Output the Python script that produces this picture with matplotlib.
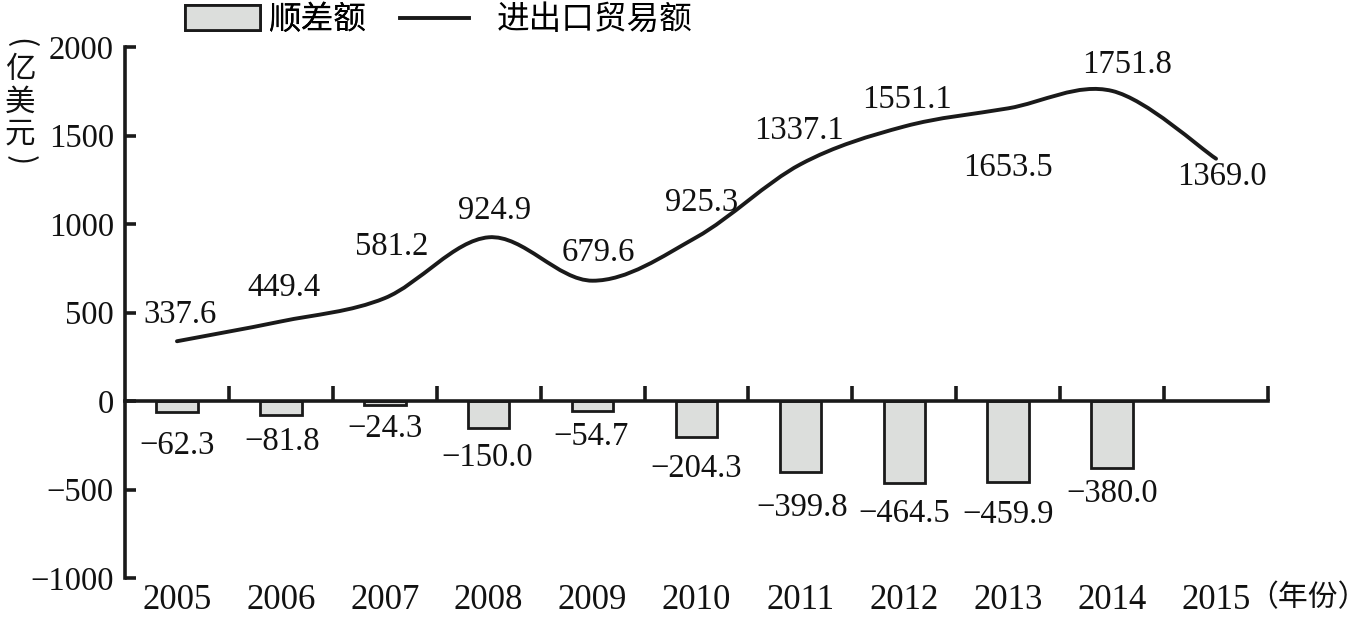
import matplotlib
matplotlib.use("Agg")
import matplotlib.pyplot as plt
from matplotlib.path import Path
from matplotlib.patches import PathPatch, Patch
from matplotlib.lines import Line2D
import numpy as np

# ---------------- data ----------------
years = ["2005", "2006", "2007", "2008", "2009", "2010", "2011", "2012", "2013", "2014", "2015"]
trade_total = [337.6, 449.4, 581.2, 924.9, 679.6, 925.3, 1337.1, 1551.1, 1653.5, 1751.8, 1369.0]
balance = [-62.3, -81.8, -24.3, -150.0, -54.7, -204.3, -399.8, -464.5, -459.9, -380.0]
yticks = [-1000, -500, 0, 500, 1000, 1500, 2000]
legend_labels = ["顺差额", "进出口贸易额"]
ylabel_chars = ["亿", "美", "元"]
ylabel_parens = ["(", ")"]
xunit = "（年份）"

# label offsets (points): styling only
line_lbl_off = [(2, 19), (2, 24), (5, 37), (4, 19), (4, 20), (4, 25), (-1, 24), (2, 19), (0, -43), (11, 19), (4, -13)]
bar_lbl_off = [(0, -24), (1, -19), (0, -17), (-1, -22), (-1, -19), (0, -23), (1, -26), (0, -22), (0, -23), (0, -18)]

NUM = "Liberation Serif"
CJK = ["Noto Sans CJK SC", "DejaVu Sans"]

plt.rcParams["font.family"] = [NUM, "Noto Sans CJK SC", "DejaVu Sans"]

fig = plt.figure(figsize=(13.69, 6.18), dpi=100)
ax = fig.add_axes([125 / 1369, 40 / 618, (1268 - 125) / 1369, (578 - 47) / 618])

x = np.arange(len(years))
xb = np.arange(len(balance))

# bars
ax.bar(xb, balance, width=0.4, facecolor="#dcdedc", edgecolor="#1a1a1a", linewidth=2.0, zorder=2)

# smooth line (Catmull-Rom as cubic Bezier)
pts = np.column_stack([x, trade_total]).astype(float)
n = len(pts)
verts = [tuple(pts[0])]
codes = [Path.MOVETO]
for i in range(n - 1):
    p0 = pts[i - 1] if i > 0 else pts[i]
    p1 = pts[i]
    p2 = pts[i + 1]
    p3 = pts[i + 2] if i + 2 < n else pts[i + 1]
    c1 = p1 + (p2 - p0) / 6.0
    c2 = p2 - (p3 - p1) / 6.0
    verts += [tuple(c1), tuple(c2), tuple(p2)]
    codes += [Path.CURVE4, Path.CURVE4, Path.CURVE4]
ax.add_patch(PathPatch(Path(verts, codes), fill=False, edgecolor="#1a1a1a", linewidth=2.8,
                       capstyle="round", zorder=3))

# line labels
for i, v in enumerate(trade_total):
    ax.annotate(f"{v:.1f}", xy=(x[i], v), xytext=line_lbl_off[i], textcoords="offset points",
                ha="center", va="center", fontsize=23.5, family=NUM, color="#111111", zorder=4)

# bar labels
for i, v in enumerate(balance):
    ax.annotate(f"{v:.1f}".replace("-", "\u2212"), xy=(xb[i], v), xytext=bar_lbl_off[i],
                textcoords="offset points", ha="center", va="center", fontsize=23.5,
                family=NUM, color="#111111", zorder=4)

# axes limits
ax.set_xlim(-0.5, len(years) - 0.5)
ax.set_ylim(-1000, 2000)

# spines
for s in ["top", "right"]:
    ax.spines[s].set_visible(False)
ax.spines["left"].set_linewidth(2.6)
ax.spines["left"].set_color("#1a1a1a")
ax.spines["bottom"].set_position(("data", 0))
ax.spines["bottom"].set_linewidth(2.6)
ax.spines["bottom"].set_color("#1a1a1a")

# y ticks
ax.set_yticks(yticks)
ax.set_yticklabels([str(t).replace("-", "\u2212") for t in yticks])
ax.tick_params(axis="y", direction="in", length=8, width=2.6, color="#1a1a1a", pad=8,
               labelsize=23.5, labelcolor="#111111")

# x ticks on zero line (boundaries)
ax.set_xticks(np.arange(len(years)) + 0.5)
ax.tick_params(axis="x", direction="in", length=11, width=2.6, color="#1a1a1a", labelbottom=False)

# year labels at the bottom
sec = ax.secondary_xaxis(0)
sec.set_xticks(x)
sec.set_xticklabels(years)
sec.spines["bottom"].set_visible(False)
sec.tick_params(axis="x", length=0, pad=4, labelsize=25, labelcolor="#111111")
for lab in sec.get_xticklabels():
    lab.set_family(NUM)

ax.annotate(xunit, xy=(x[-1], 0), xycoords=("data", "axes fraction"), xytext=(23, -3),
            textcoords="offset points", ha="left", va="top", fontsize=21.5, family=CJK,
            color="#111111")

# y unit label (vertical)
fig.text(20 / 1369, 1 - 102 / 618, "\n".join(ylabel_chars), ha="center", va="center",
         fontsize=22, family=CJK, linespacing=1.05, color="#111111")
fig.text(20 / 1369, 1 - 43 / 618, ylabel_parens[0], ha="center", va="center", rotation=-90,
         fontsize=22, family=CJK, color="#111111")
fig.text(20 / 1369, 1 - 160 / 618, ylabel_parens[1], ha="center", va="center", rotation=-90,
         fontsize=22, family=CJK, color="#111111")

# legends
h1 = Patch(facecolor="#dcdedc", edgecolor="#1a1a1a", linewidth=2.0)
h2 = Line2D([], [], color="#1a1a1a", linewidth=2.8)
leg1 = fig.legend([h1], [legend_labels[0]], loc="center left", bbox_to_anchor=(185 / 1369, 1 - 20 / 618),
                  frameon=False, borderpad=0, borderaxespad=0, handlelength=2.3, handleheight=0.8,
                  handletextpad=0.25, prop={"family": CJK, "size": 23.5})
leg2 = fig.legend([h2], [legend_labels[1]], loc="center left", bbox_to_anchor=(400 / 1369, 1 - 20 / 618),
                  frameon=False, borderpad=0, borderaxespad=0, handlelength=2.1,
                  handletextpad=0.85, prop={"family": CJK, "size": 23.5})
fig.add_artist(leg1)

fig.savefig("out.png", dpi=100)
